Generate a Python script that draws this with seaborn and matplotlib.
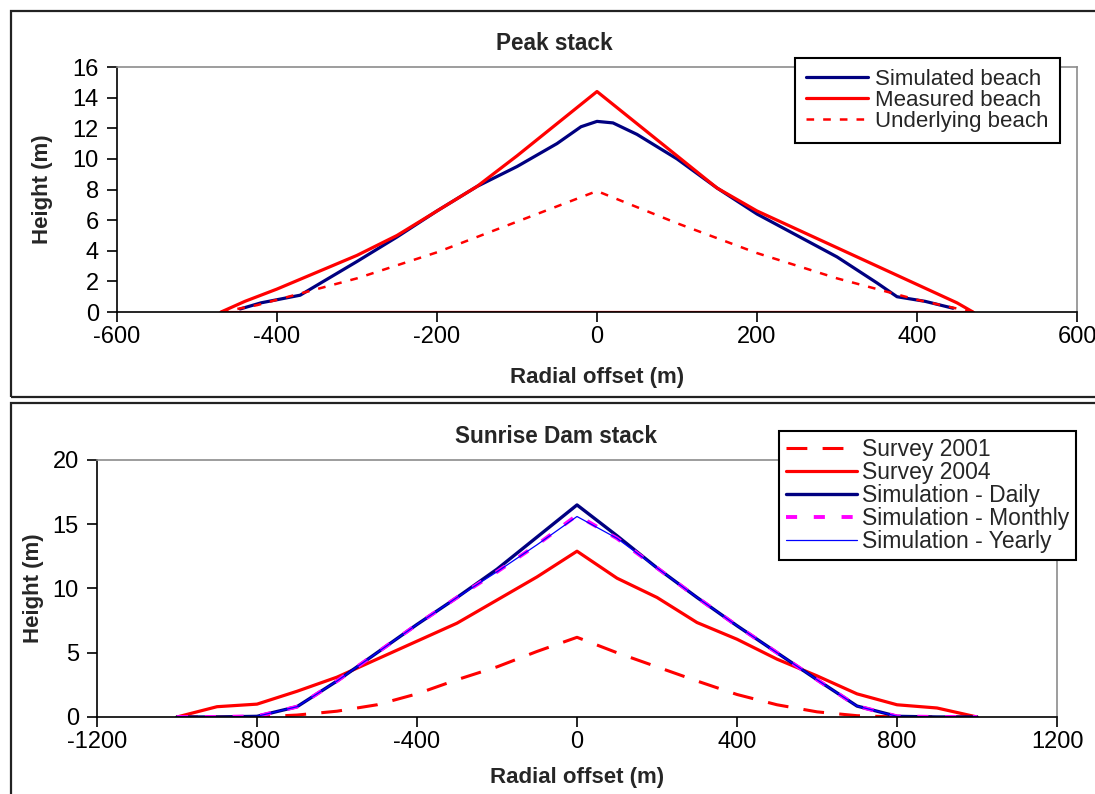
import matplotlib
matplotlib.use("Agg")
import matplotlib.pyplot as plt
from matplotlib.patches import Rectangle
import seaborn as sns

# ---- Peak stack profiles (radial offset in m, height in m) ----
peak_sim_x = [-446, -420, -371, -300, -250, -200, -150, -100, -50, -20, 0,
              20, 50, 100, 150, 200, 250, 300, 350, 375, 410, 445]
peak_sim_y = [0.2, 0.6, 1.1, 3.3, 4.9, 6.6, 8.2, 9.5, 11.0, 12.1, 12.45,
              12.35, 11.6, 10.0, 8.1, 6.4, 5.0, 3.6, 1.9, 1.0, 0.7, 0.25]

peak_meas_x = [-470, -440, -400, -350, -300, -250, -200, -150, -100, -50, 0,
               50, 100, 150, 200, 250, 300, 350, 400, 450, 470]
peak_meas_y = [0, 0.7, 1.5, 2.6, 3.7, 5.0, 6.6, 8.2, 10.2, 12.3, 14.4,
               12.3, 10.2, 8.1, 6.6, 5.4, 4.2, 3.0, 1.8, 0.6, 0]

peak_base_x = [-470, 470]
peak_base_y = [0, 0]

peak_under_x = [-470, -425, -400, -300, -200, -100, 0, 100, 200, 300, 400, 470]
peak_under_y = [0, 0.45, 0.8, 2.2, 3.9, 5.9, 7.9, 5.8, 3.85, 2.2, 0.8, 0]

peak_xticks = [-600, -400, -200, 0, 200, 400, 600]
peak_yticks = [0, 2, 4, 6, 8, 10, 12, 14, 16]

# ---- Sunrise Dam stack profiles ----
sd_x = [-1000, -900, -800, -700, -600, -500, -400, -300, -200, -100, 0,
        100, 200, 300, 400, 500, 600, 700, 800, 900, 1000]
survey_2001 = [0, 0, 0, 0.15, 0.45, 0.95, 1.8, 2.9, 3.9, 5.1, 6.2,
               5.0, 3.9, 2.8, 1.75, 0.95, 0.4, 0.1, 0, 0, 0]
survey_2004 = [0, 0.8, 1.0, 2.0, 3.1, 4.5, 5.9, 7.3, 9.1, 10.9, 12.9,
               10.8, 9.3, 7.35, 6.05, 4.5, 3.2, 1.8, 0.95, 0.7, 0]
sim_daily = [0, 0, 0.05, 0.8, 2.8, 5.0, 7.2, 9.3, 11.5, 14.0, 16.5,
             14.1, 11.6, 9.3, 7.1, 5.0, 2.9, 0.85, 0.05, 0, 0]
sim_monthly = [0, 0, 0.05, 0.8, 2.8, 5.0, 7.2, 9.3, 11.3, 13.4, 15.7,
               13.9, 11.6, 9.3, 7.1, 5.0, 2.9, 0.85, 0.05, 0, 0]
sim_yearly = [0, 0, 0.05, 0.8, 2.8, 5.0, 7.2, 9.3, 11.3, 13.4, 15.6,
              13.9, 11.6, 9.3, 7.1, 5.0, 2.9, 0.85, 0.05, 0, 0]

sd_xticks = [-1200, -800, -400, 0, 400, 800, 1200]
sd_yticks = [0, 5, 10, 15, 20]

NAVY = "#000080"
RED = "#FF0000"
MAGENTA = "#FF00FF"
BLUE = "#0000FF"

sns.set_theme(style="white")
plt.rcParams["font.family"] = ["Liberation Sans", "DejaVu Sans"]
plt.rcParams["axes.unicode_minus"] = False
plt.rcParams["lines.scale_dashes"] = False

fig = plt.figure(figsize=(10.95, 7.94), dpi=100)
fig.patch.set_facecolor("white")

# Chart frames
fig.patches.append(Rectangle((0.010, 0.500), 1.0, 0.486, transform=fig.transFigure,
                             fill=False, edgecolor="#222222", linewidth=1.6, zorder=0))
fig.patches.append(Rectangle((0.010, -0.02), 1.0, 0.5124, transform=fig.transFigure,
                             fill=False, edgecolor="#222222", linewidth=1.6, zorder=0))

ax1 = fig.add_axes([0.1068, 0.607, 0.8768, 0.3086])
ax2 = fig.add_axes([0.0886, 0.097, 0.8767, 0.3237])


def style_axes(ax, xticks, yticks):
    ax.set_facecolor("white")
    for side in ("top", "right"):
        ax.spines[side].set_color("#8c8c8c")
        ax.spines[side].set_linewidth(1.2)
    for side in ("left", "bottom"):
        ax.spines[side].set_color("black")
        ax.spines[side].set_linewidth(1.2)
    ax.set_xticks(xticks)
    ax.set_yticks(yticks)
    ax.set_xlim(xticks[0], xticks[-1])
    ax.set_ylim(yticks[0], yticks[-1])
    ax.tick_params(axis="both", which="major", direction="out", bottom=True, left=True,
                   length=7, width=1.2, color="black", labelsize=17, labelcolor="black")
    ax.tick_params(axis="x", pad=3)
    ax.tick_params(axis="y", pad=6)
    ax.grid(False)


def style_legend(ax, anchor, fontsize, handlelength, borderpad, textpad):
    h, l = ax.get_legend_handles_labels()
    leg = ax.legend(h, l, loc="upper right", bbox_to_anchor=anchor,
                    borderaxespad=0, fontsize=fontsize, frameon=True, fancybox=False,
                    framealpha=1, edgecolor="black", handlelength=handlelength,
                    handletextpad=textpad, labelspacing=0.0, borderpad=borderpad)
    leg.get_frame().set_linewidth(1.5)
    return leg


# ---- Peak stack ----
sns.lineplot(x=peak_sim_x, y=peak_sim_y, ax=ax1, color=NAVY, linewidth=2.3,
             label="Simulated beach", sort=False)
sns.lineplot(x=peak_meas_x, y=peak_meas_y, ax=ax1, color=RED, linewidth=2.3,
             label="Measured beach", sort=False)
sns.lineplot(x=peak_base_x, y=peak_base_y, ax=ax1, color=RED, linewidth=2.3,
             sort=False, legend=False)
sns.lineplot(x=peak_under_x, y=peak_under_y, ax=ax1, color=RED, linewidth=1.8,
             linestyle=(0, (5.5, 6.5)), label="Underlying beach", sort=False)

style_axes(ax1, peak_xticks, peak_yticks)
ax1.set_xlabel("Radial offset (m)", fontsize=16, fontweight="bold", va="top")
ax1.set_ylabel("Height (m)", fontsize=16, fontweight="bold")
ax1.xaxis.set_label_coords(0.5, -0.2245)
ax1.yaxis.set_label_coords(-0.0667, 0.5)
ax1.set_title("Peak stack", fontsize=16.3, fontweight="bold", x=0.456, y=1.098,
              va="center", pad=0)
style_legend(ax1, (0.982, 1.037), 16, 2.8, 0.5, 0.3)

# ---- Sunrise Dam stack ----
sns.lineplot(x=sd_x, y=survey_2001, ax=ax2, color=RED, linewidth=2.2,
             linestyle=(0, (15, 11)), label="Survey 2001", sort=False)
sns.lineplot(x=sd_x, y=survey_2004, ax=ax2, color=RED, linewidth=2.3,
             label="Survey 2004", sort=False)
sns.lineplot(x=sd_x, y=sim_daily, ax=ax2, color=NAVY, linewidth=2.4,
             label="Simulation - Daily", sort=False)
sns.lineplot(x=sd_x, y=sim_monthly, ax=ax2, color=MAGENTA, linewidth=2.8,
             linestyle=(0, (8, 12)), label="Simulation - Monthly", sort=False)
sns.lineplot(x=sd_x, y=sim_yearly, ax=ax2, color=BLUE, linewidth=0.9,
             label="Simulation - Yearly", sort=False)

style_axes(ax2, sd_xticks, sd_yticks)
ax2.set_xlabel("Radial offset (m)", fontsize=16, fontweight="bold", va="top")
ax2.set_ylabel("Height (m)", fontsize=16, fontweight="bold")
ax2.xaxis.set_label_coords(0.5, -0.195)
ax2.yaxis.set_label_coords(-0.0552, 0.5)
ax2.set_title("Sunrise Dam stack", fontsize=16.3, fontweight="bold", x=0.478, y=1.0895,
              va="center", pad=0)
style_legend(ax2, (1.0198, 1.113), 16.5, 3.1, 0.3, 0.2)

fig.savefig("out.png", dpi=100, facecolor="white")
